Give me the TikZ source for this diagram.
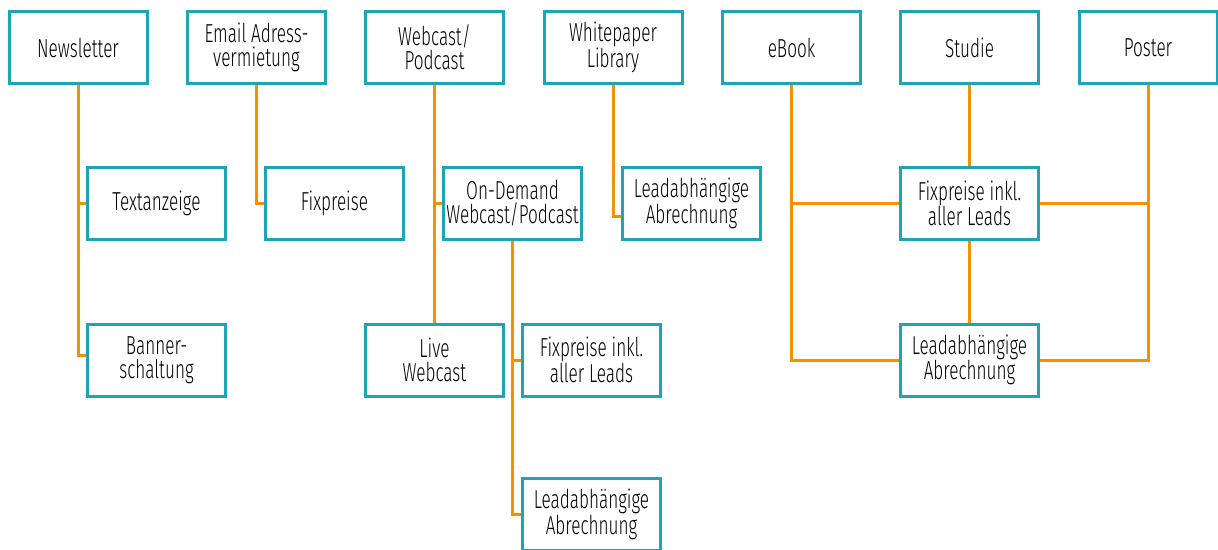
\documentclass[tikz,border=0pt]{standalone}
\usepackage{fontspec}
\setmainfont{Fira Sans Light}[FakeStretch=0.66]
\definecolor{boxteal}{HTML}{1BA5B6}
\definecolor{lineorange}{HTML}{F39200}
\begin{document}
\begin{tikzpicture}[x=1pt,y=-1pt,
  box/.style={draw=boxteal,line width=2pt,fill=white,minimum width=137pt,minimum height=71pt,
    inner sep=0pt,align=center,font=\fontsize{26}{24}\selectfont},
  conn/.style={draw=lineorange,line width=3pt}]
\useasboundingbox (0,0) rectangle (1218,549);
% top row
\node[box] (nl) at (78,47.5) {Newsletter};
\node[box] (em) at (256.5,47.5) {Email Adress-\\vermietung};
\node[box] (wc) at (434.5,47.5) {Webcast/\\Podcast};
\node[box] (wp) at (613,47.5) {Whitepaper\\Library};
\node[box] (eb) at (791.5,47.5) {eBook};
\node[box] (st) at (969.5,47.5) {Studie};
\node[box] (ps) at (1148,47.5) {Poster};
% second levels
\node[box] (ta) at (156.5,203.5) {Textanzeige};
\node[box] (bn) at (156.5,360) {Banner-\\schaltung};
\node[box] (fx) at (334.5,203.5) {Fixpreise};
\node[box] (od) at (512.5,203.5) {On-Demand\\Webcast/Podcast};
\node[box] (lw) at (434.5,360) {Live\\Webcast};
\node[box] (fw) at (591.5,360) {Fixpreise inkl.\\aller Leads};
\node[box] (lb) at (591.5,514.5) {Leadabhängige\\Abrechnung};
\node[box] (lp) at (691.5,203.5) {Leadabhängige\\Abrechnung};
\node[box] (fr) at (969.5,203.5) {Fixpreise inkl.\\aller Leads};
\node[box] (lr) at (969.5,360) {Leadabhängige\\Abrechnung};
% connectors
\draw[conn] (nl.south) |- (ta.west);
\draw[conn] (nl.south) |- ([yshift=5pt]bn.west);
\draw[conn] (em.south) |- (fx.west);
\draw[conn] (wc.south) -- (lw.north);
\draw[conn] (wc.south) |- (od.west);
\draw[conn] (od.south) |- (fw.west);
\draw[conn] (od.south) |- (lb.west);
\draw[conn] (wp.south) |- ([yshift=-12.5pt]lp.west);
\draw[conn] (eb.south) |- (fr.west);
\draw[conn] (eb.south) |- (lr.west);
\draw[conn] (st.south) -- (fr.north);
\draw[conn] (fr.south) -- (lr.north);
\draw[conn] (ps.south) |- (fr.east);
\draw[conn] (ps.south) |- (lr.east);
% redraw box borders over connectors
\foreach \n in {nl,em,wc,wp,eb,st,ps,ta,bn,fx,od,lw,fw,lb,lp,fr,lr}{
  \draw[boxteal,line width=2pt] (\n.south west) rectangle (\n.north east);
}
\end{tikzpicture}
\end{document}
